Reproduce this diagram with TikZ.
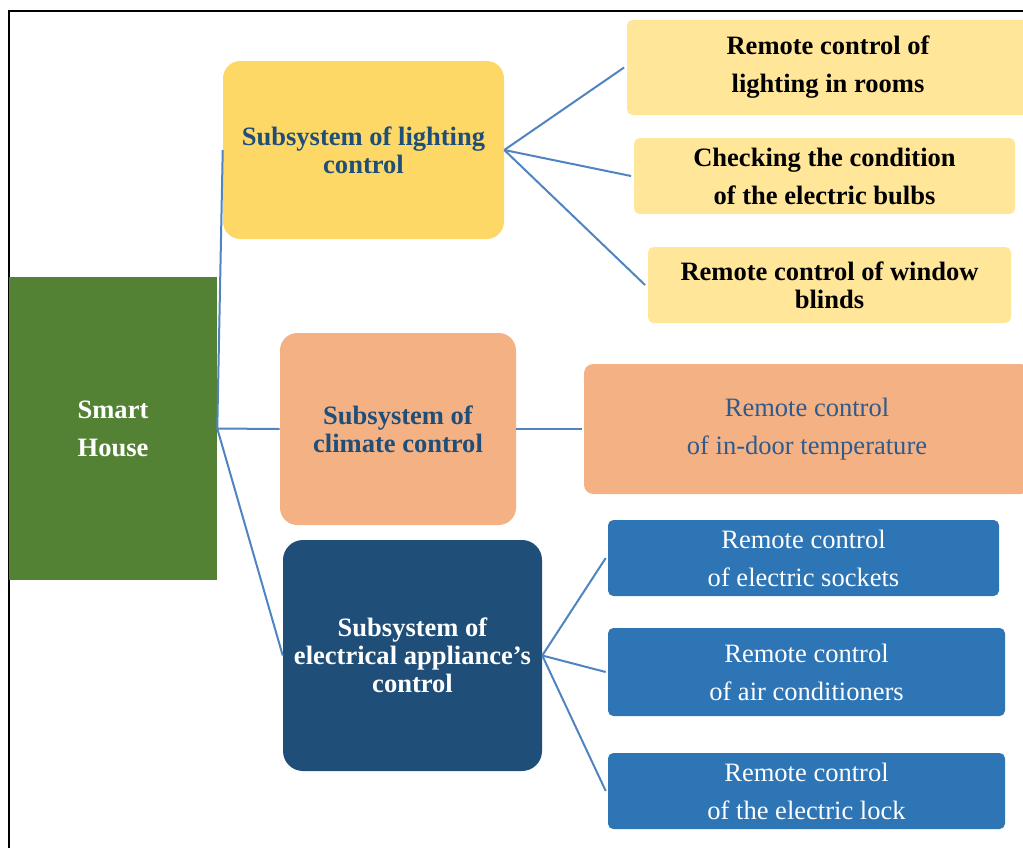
\documentclass[tikz,border=0pt]{standalone}
\usepackage{fontspec}
\setmainfont{Liberation Serif}
\definecolor{shgreen}{HTML}{548235}
\definecolor{subyellow}{HTML}{FED866}
\definecolor{leafyellow}{HTML}{FFE699}
\definecolor{salmon}{HTML}{F4B183}
\definecolor{darkblue}{HTML}{1F4E79}
\definecolor{midblue}{HTML}{2E75B6}
\definecolor{linkblue}{HTML}{4F84C0}
\definecolor{salmontext}{HTML}{2E5A8E}
\begin{document}
\begin{tikzpicture}[x=0.75pt,y=-0.75pt,
  base/.style={inner sep=0pt, align=center, font=\fontsize{19.9}{21}\selectfont},
  boldbase/.style={base, font=\fontsize{19.9}{21}\selectfont\bfseries},
  conn/.style={draw=linkblue, line width=1.5pt},
  frame/.style={draw=black, line width=1.5pt}]
\useasboundingbox (0,0) rectangle (1023,847);
\draw[frame] (8.5,900) |- (1100,11);

% root
\node[boldbase, fill=shgreen, text=white, minimum width=208*0.75pt, minimum height=303*0.75pt] (sh) at (113,428.5) {Smart\\[7.5pt]House};

% subsystems
\node[boldbase, fill=subyellow, text=darkblue, rounded corners=13pt, minimum width=281*0.75pt, minimum height=178*0.75pt] (light) at (363.5,150) {Subsystem of lighting\\control};
\node[boldbase, fill=salmon, text=darkblue, rounded corners=13pt, minimum width=236*0.75pt, minimum height=192*0.75pt] (clim) at (398,429) {Subsystem of\\climate control};
\node[boldbase, fill=darkblue, text=white, rounded corners=15pt, minimum width=259*0.75pt, minimum height=231*0.75pt] (elec) at (412.5,655.5) {Subsystem of\\electrical appliance’s\\control};

% lighting leaves
\node[boldbase, fill=leafyellow, text=black, rounded corners=4pt, minimum width=402*0.75pt, minimum height=95*0.75pt] (l1) at (828,67.5) {Remote control of\\[7.5pt]lighting in rooms};
\node[boldbase, fill=leafyellow, text=black, rounded corners=4pt, minimum width=381*0.75pt, minimum height=76*0.75pt] (l2) at (824.5,176) {Checking the condition\\[7.5pt]of the electric bulbs};
\node[boldbase, fill=leafyellow, text=black, rounded corners=4pt, minimum width=363*0.75pt, minimum height=76*0.75pt] (l3) at (829.5,285) {Remote control of window\\blinds};

% climate leaf
\node[base, fill=salmon, text=salmontext, rounded corners=7pt, minimum width=446*0.75pt, minimum height=130*0.75pt] (c1) at (807,429) {Remote control\\[7.5pt]of in-door temperature};

% electrical leaves
\node[base, fill=midblue, text=white, rounded corners=4pt, minimum width=391*0.75pt, minimum height=76*0.75pt] (e1) at (803.5,558) {Remote control\\[7.5pt]of electric sockets};
\node[base, fill=midblue, text=white, rounded corners=4pt, minimum width=397*0.75pt, minimum height=88*0.75pt] (e2) at (806.5,672) {Remote control\\[7.5pt]of air conditioners};
\node[base, fill=midblue, text=white, rounded corners=4pt, minimum width=397*0.75pt, minimum height=76*0.75pt] (e3) at (806.5,791) {Remote control\\[7.5pt]of the electric lock};

% connectors
\draw[conn] (sh.east) -- (light.west);
\draw[conn] (sh.east) -- (clim.west);
\draw[conn] (sh.east) -- (elec.west);
\draw[conn] (light.east) -- ([xshift=-2pt]l1.west);
\draw[conn] (light.east) -- ([xshift=-2pt]l2.west);
\draw[conn] (light.east) -- ([xshift=-2pt]l3.west);
\draw[conn] (clim.east) -- ([xshift=-1pt]c1.west);
\draw[conn] (elec.east) -- ([xshift=-1.5pt]e1.west);
\draw[conn] (elec.east) -- ([xshift=-1.5pt]e2.west);
\draw[conn] (elec.east) -- ([xshift=-1.5pt]e3.west);
\end{tikzpicture}
\end{document}
